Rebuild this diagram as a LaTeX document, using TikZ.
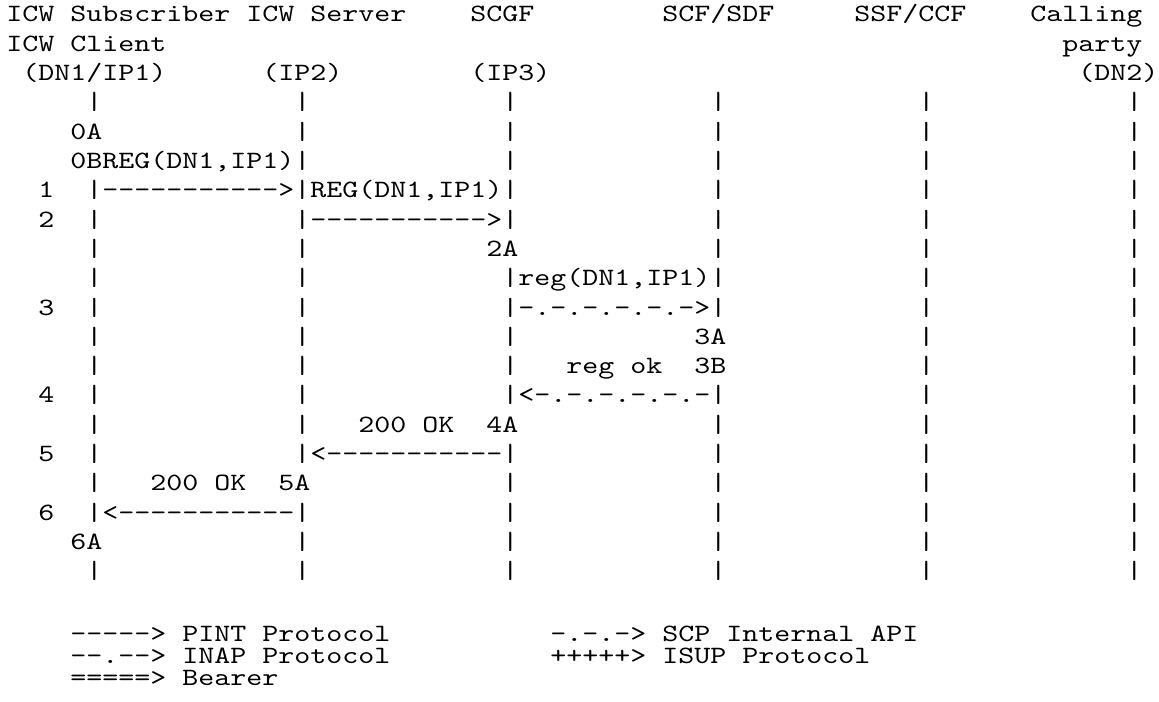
\documentclass[tikz,border=0pt]{standalone}
\usepackage{fontspec}
\setmonofont{lmmono10-regular.otf}[FakeStretch=1.224]

\tikzset{
  txt/.style={anchor=base west, inner sep=0pt,
    font=\ttfamily\fontsize{12.45pt}{13pt}\selectfont},
}
% one run of characters at column #2, line #3
\newcommand{\cell}[4]{\node[txt] (#1) at ({6+16*#2},{22+29.3*#3}) {#4};}

\begin{document}
\begin{tikzpicture}[x=0.5pt,y=-0.5pt]
\useasboundingbox (0,0) rectangle (1159,701);

% heads
\cell{subs}{0}{0}{ICW Subscriber}
\cell{serv}{15}{0}{ICW Server}
\cell{scgf}{29}{0}{SCGF}
\cell{scf}{41}{0}{SCF/SDF}
\cell{ssf}{53}{0}{SSF/CCF}
\cell{call}{64}{0}{Calling}
\cell{clnt}{0}{1}{ICW Client}
\cell{party}{66}{1}{party}
\cell{ip1}{1}{2}{(DN1/IP1)}
\cell{ip2}{16}{2}{(IP2)}
\cell{ip3}{29}{2}{(IP3)}
\cell{dn2}{67}{2}{(DN2)}

% life lines
\foreach \c/\rs in {5/{3,6,7,...,17,19},
                    18/{3,4,...,15,17,18,19},
                    31/{3,4,...,7,9,10,...,13,15,16,...,19},
                    44/{3,4,...,10,13,14,...,19},
                    57/{3,4,...,19},
                    70/{3,4,...,19}}
  \foreach \r in \rs
    \cell{bar-\c-\r}{\c}{\r}{|};

% steps
\cell{s0a}{4}{4}{0A}
\cell{s0b}{4}{5}{0BREG(DN1,IP1)}
\cell{n1}{2}{6}{1}
\cell{m1}{6}{6}{----------->}
\cell{l1}{19}{6}{REG(DN1,IP1)}
\cell{n2}{2}{7}{2}
\cell{m2}{19}{7}{----------->}
\cell{s2a}{30}{8}{2A}
\cell{l2}{32}{9}{reg(DN1,IP1)}
\cell{n3}{2}{10}{3}
\cell{m3}{32}{10}{-.-.-.-.-.->}
\cell{s3a}{43}{11}{3A}
\cell{l3}{35}{12}{reg ok}
\cell{s3b}{43}{12}{3B}
\cell{n4}{2}{13}{4}
\cell{m4}{32}{13}{<-.-.-.-.-.-}
\cell{l4}{22}{14}{200 OK}
\cell{s4a}{30}{14}{4A}
\cell{n5}{2}{15}{5}
\cell{m5}{19}{15}{<-----------}
\cell{l5}{9}{16}{200 OK}
\cell{s5a}{17}{16}{5A}
\cell{n6}{2}{17}{6}
\cell{m6}{6}{17}{<-----------}
\cell{s6a}{4}{18}{6A}

% legend
\cell{pint}{4}{21.13}{-----> PINT Protocol}
\cell{inap}{4}{21.88}{--.--> INAP Protocol}
\cell{bear}{4}{22.63}{=====> Bearer}
\cell{api}{34}{21.13}{-.-.-> SCP Internal API}
\cell{isup}{34}{21.88}{+++++> ISUP Protocol}
\end{tikzpicture}
\end{document}
